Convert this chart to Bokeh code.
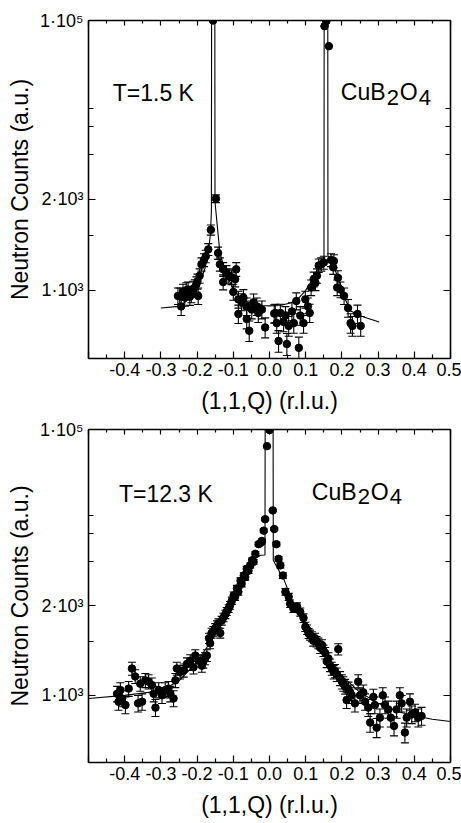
import numpy as np
from bokeh.plotting import figure
from bokeh.models import (ColumnDataSource, Whisker, TeeHead, FixedTicker, LinearAxis,
                          Range1d, Label)
from bokeh.layouts import column
from bokeh.embed import file_html
from bokeh.resources import INLINE

# ---------------- data (counts) ----------------
TOP_Q = [-0.253, -0.248, -0.244, -0.239, -0.234, -0.230, -0.225, -0.220, -0.216, -0.211,
         -0.206, -0.202, -0.199, -0.197, -0.193, -0.188, -0.181, -0.176, -0.169, -0.162,
         -0.156, -0.148, -0.142, -0.137, -0.128, -0.128, -0.119, -0.114, -0.105, -0.100,
         -0.095, -0.092, -0.086, -0.086, -0.077, -0.072, -0.063, -0.063, -0.056, -0.049,
         -0.044, -0.035, -0.031, -0.021, -0.012, 0.013, 0.016, 0.020, 0.025, 0.030,
         0.039, 0.044, 0.048, 0.053, 0.062, 0.067, 0.074, 0.081, 0.085, 0.094,
         0.099, 0.106, 0.111, 0.115, 0.122, 0.127, 0.131, 0.136, 0.143, 0.150,
         0.152, 0.157, 0.164, 0.170, 0.176, 0.178, 0.187, 0.189, 0.196, 0.206,
         0.217, 0.224, 0.229, 0.243, 0.252]
TOP_C = [965, 965, 905, 990, 955, 1000, 1005, 960, 975, 1010,
         1020, 1040, 1060, 965, 1100, 1190, 1227, 1260, 1325, 1540,
         100000, 2015, 1290, 1190, 1150, 1055, 1125, 1100, 1090, 990,
         1075, 1150, 945, 865, 930, 955, 905, 840, 785, 888,
         928, 905, 870, 888, 800, 867, 870, 820, 742, 870,
         827, 857, 730, 807, 878, 820, 935, 715, 857, 820,
         945, 905, 870, 1018, 1075, 1050, 1100, 1180, 1190, 1205,
         68700, 95700, 27100, 1227, 1165, 1218, 1018, 1085, 1005, 965,
         896, 820, 807, 865, 807]

TOP_FIT_Q = [-0.30, -0.25, -0.22, -0.20, -0.18, -0.17, -0.163, -0.1605, -0.160, -0.151,
             -0.1505, -0.137, -0.12, -0.10, -0.08, -0.05, -0.02, 0.0, 0.03, 0.06,
             0.08, 0.10, 0.12, 0.135, 0.1505, 0.151, 0.161, 0.1615, 0.178, 0.19,
             0.206, 0.224, 0.26, 0.303]
TOP_FIT_C = [896, 905, 950, 1010, 1140, 1260, 1500, 1800, 100000, 100000,
             1950, 1290, 1110, 1010, 950, 920, 910, 908, 910, 925,
             950, 1000, 1080, 1170, 1230, 100000, 100000, 1265, 1170, 1080,
             960, 880, 850, 825]

BOT_Q = [-0.421, -0.417, -0.412, -0.407, -0.398, -0.389, -0.380, -0.371, -0.363, -0.357,
         -0.352, -0.343, -0.334, -0.325, -0.320, -0.315, -0.306, -0.297, -0.288, -0.279,
         -0.274, -0.265, -0.260, -0.256, -0.247, -0.237, -0.228, -0.219, -0.210, -0.205,
         -0.196, -0.187, -0.183, -0.178, -0.173, -0.167, -0.164, -0.160, -0.155, -0.150,
         -0.145, -0.141, -0.136, -0.132, -0.127, -0.122, -0.118, -0.113, -0.109, -0.104,
         -0.099, -0.095, -0.090, -0.086, -0.080, -0.077, -0.071, -0.067, -0.063, -0.058,
         -0.053, -0.048, -0.044, -0.039, -0.030, -0.023, -0.021, -0.016, -0.012, -0.007,
         0.000, 0.009, 0.013, 0.019, 0.025, 0.030, 0.037, 0.044, 0.053, 0.057,
         0.066, 0.076, 0.085, 0.094, 0.099, 0.104, 0.108, 0.112, 0.117, 0.121,
         0.126, 0.130, 0.135, 0.140, 0.145, 0.149, 0.154, 0.158, 0.163, 0.167,
         0.172, 0.177, 0.181, 0.186, 0.190, 0.195, 0.200, 0.204, 0.209, 0.213,
         0.218, 0.223, 0.227, 0.236, 0.245, 0.250, 0.259, 0.264, 0.273, 0.278,
         0.287, 0.291, 0.296, 0.305, 0.313, 0.319, 0.328, 0.335, 0.344, 0.351,
         0.360, 0.365, 0.374, 0.379, 0.388, 0.393, 0.402, 0.411, 0.420]
BOT_C = [1010, 960, 1035, 980, 940, 1045, 1200, 1135, 950, 1080,
         960, 1105, 1095, 1070, 1010, 925, 1035, 1000, 1035, 1045,
         1010, 980, 1105, 1200, 1170, 1185, 1240, 1270, 1210, 1320,
         1270, 1225, 1260, 1290, 1320, 1510, 1450, 1575, 1600, 1640,
         1680, 1710, 1575, 1750, 1800, 1850, 1900, 1950, 2010, 2100,
         2210, 2180, 2370, 2290, 2570, 2490, 2720, 2670, 2930, 2870,
         3050, 3240, 3180, 3510, 3980, 4080, 4160, 4820, 5770, 38600,
         96000, 6700, 4940, 3980, 3300, 3050, 2720, 2290, 2180, 2040,
         1950, 1985, 1890, 1790, 1660, 1620, 1570, 1550, 1530, 1480,
         1510, 1470, 1450, 1400, 1430, 1370, 1345, 1265, 1290, 1230,
         1200, 1170, 1180, 1150, 1385, 1120, 1095, 1080, 1060, 970,
         1040, 1020, 1000, 950, 1095, 1000, 1020, 960, 925, 845,
         990, 940, 820, 870, 1000, 940, 915, 870, 828, 915,
         1000, 950, 797, 870, 960, 887, 897, 870, 879]

BOT_FIT_Q = [-0.50, -0.40, -0.30, -0.25, -0.20, -0.15, -0.12, -0.10, -0.08, -0.06,
             -0.04, -0.025, -0.0125, -0.012, 0.010, 0.0105, 0.02, 0.04, 0.06, 0.08,
             0.10, 0.13, 0.16, 0.20, 0.25, 0.30, 0.35, 0.40, 0.45, 0.50]
BOT_FIT_C = [980, 1000, 1030, 1100, 1260, 1550, 1850, 2150, 2500, 2900,
             3300, 3450, 3460, 100000, 100000, 3240, 3000, 2600, 2150, 1850,
             1650, 1450, 1290, 1140, 1020, 950, 905, 880, 862, 850]

ERR_FACTOR = 1.6          # Poisson-like error bars: ERR_FACTOR * sqrt(counts)

XTICKS = [-0.5, -0.4, -0.3, -0.2, -0.1, 0.0, 0.1, 0.2, 0.3, 0.4, 0.5]
XTICK_LABELS = ["", "-0.4", "-0.3", "-0.2", "-0.1", "0.0", "0.1", "0.2", "0.3", "0.4", "0.5"]
XMINOR = [-0.45, -0.35, -0.25, -0.15, -0.05, 0.05, 0.15, 0.25, 0.35, 0.45]
YTICKS = [1000, 2000, 100000]
YTICK_LABELS = ["1·10³", "2·10³", "1·10⁵"]
YMINOR = [1470, 3200, 4600, 6100]
Y_BOTTOM, Y_TOP = 676, 100000

# nonlinear count axis of the original figure
P = -0.53
def ty(c):
    return -np.power(np.asarray(c, dtype=float), P)

FONT = "Liberation Sans"


def panel(q, c, fq, fc, temp, temp_pos, comp_pos, frame_h, left, right, top, bottom):
    p = figure(frame_width=362, frame_height=frame_h, output_backend="svg",
               toolbar_location=None,
               x_range=Range1d(-0.5, 0.5),
               y_range=Range1d(float(ty(Y_BOTTOM)), float(ty(Y_TOP))),
               min_border_left=left, min_border_right=right, min_border_top=top,
               min_border_bottom=bottom)
    p.xgrid.grid_line_color = None
    p.ygrid.grid_line_color = None
    p.outline_line_color = None
    p.background_fill_color = "white"

    xt = FixedTicker(ticks=XTICKS, minor_ticks=XMINOR)
    yt = FixedTicker(ticks=[float(v) for v in ty(YTICKS)],
                     minor_ticks=[float(v) for v in ty(YMINOR)])
    xover = {t: l for t, l in zip(XTICKS, XTICK_LABELS)}
    yover = {float(t): l for t, l in zip(ty(YTICKS), YTICK_LABELS)}

    for ax in p.xaxis:
        ax.ticker = xt
        ax.major_label_overrides = xover
        ax.axis_label = "(1,1,Q) (r.l.u.)"
    for ax in p.yaxis:
        ax.ticker = yt
        ax.major_label_overrides = yover
        ax.axis_label = "Neutron Counts (a.u.)"
    for ax in list(p.xaxis) + list(p.yaxis):
        ax.axis_line_width = 1.6
        ax.major_tick_in = 7
        ax.major_tick_out = 0
        ax.minor_tick_in = 4
        ax.minor_tick_out = 0
        ax.major_tick_line_width = 1.2
        ax.minor_tick_line_width = 1.2
        ax.major_label_text_font = FONT
        ax.major_label_text_font_size = "18px"
        ax.major_label_text_color = "black"
        ax.axis_label_text_font = FONT
        ax.axis_label_text_font_size = "23px"
        ax.axis_label_text_font_style = "normal"
        ax.axis_label_text_color = "black"
        ax.major_label_standoff = 4
        ax.axis_label_standoff = 9
    for ax in p.yaxis:
        ax.minor_tick_in = 5
        ax.major_label_standoff = 5
        ax.axis_label_standoff = 4

    # mirror axes (ticks only, labels not drawn)
    top_ax = LinearAxis(ticker=xt, major_label_text_font_size="1px",
                        major_label_text_color=None, major_label_standoff=0,
                        axis_line_width=1.6, major_tick_in=5, major_tick_out=0,
                        minor_tick_in=3, minor_tick_out=0, major_tick_line_width=1.2,
                        minor_tick_line_width=1.2)
    right_ax = LinearAxis(ticker=yt, major_label_text_font_size="1px",
                          major_label_text_color=None, major_label_standoff=0,
                          axis_line_width=1.6, major_tick_in=7, major_tick_out=0,
                          minor_tick_in=5, minor_tick_out=0, major_tick_line_width=1.2,
                          minor_tick_line_width=1.2)
    p.add_layout(top_ax, "above")
    p.add_layout(right_ax, "right")

    c = np.asarray(c, dtype=float)
    err = ERR_FACTOR * np.sqrt(c)
    src = ColumnDataSource(dict(q=q, y=ty(c), up=ty(c + err), lo=ty(c - err)))

    p.line(fq, ty(fc), line_color="black", line_width=1.1)
    p.add_layout(Whisker(source=src, base="q", upper="up", lower="lo", dimension="height",
                         line_color="black", line_width=1.1,
                         upper_head=TeeHead(size=8, line_color="black", line_width=1.1),
                         lower_head=TeeHead(size=8, line_color="black", line_width=1.1)))
    p.scatter("q", "y", source=src, size=7.5, color="black")

    p.add_layout(Label(x=temp_pos[0], y=float(ty(temp_pos[1])), text=temp,
                       text_font=FONT, text_font_size="23px", text_baseline="alphabetic",
                       text_color="black"))
    # CuB2O4 with lowered subscripts
    cx, cy = comp_pos[0], float(ty(comp_pos[1]))
    parts = [("CuB", 0, 0, "23px"), ("2", 46, -5, "22px"), ("O", 59, 0, "23px"),
             ("4", 78, -5, "22px")]
    for txt, dx, dy, fs in parts:
        p.add_layout(Label(x=cx, y=cy, x_offset=dx, y_offset=dy, text=txt, text_font=FONT,
                           text_font_size=fs, text_baseline="alphabetic", text_color="black"))
    return p


p1 = panel(TOP_Q, TOP_C, TOP_FIT_Q, TOP_FIT_C, "T=1.5 K", (-0.433, 7930), (0.197, 8100),
           frame_h=338, left=86, right=13, top=20, bottom=61)
p2 = panel(BOT_Q, BOT_C, BOT_FIT_Q, BOT_FIT_C, "T=12.3 K", (-0.416, 9200), (0.117, 9600),
           frame_h=333, left=88, right=11, top=10, bottom=61)

layout = column(p1, p2, spacing=0)
open("out.html", "w").write(file_html(layout, INLINE))
